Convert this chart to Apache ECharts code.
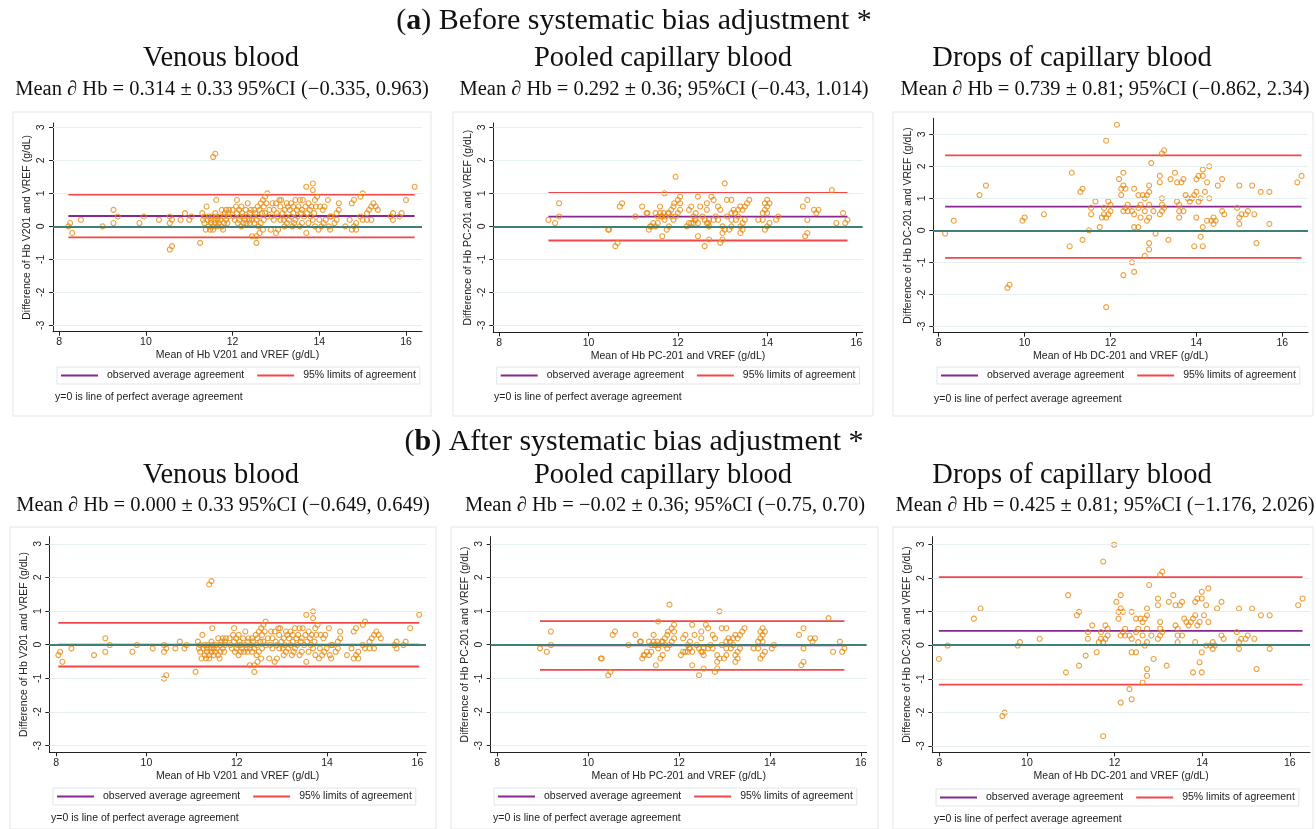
<!DOCTYPE html>
<html lang="en">
<head>
<meta charset="UTF-8">
<title>Hb agreement - Bland-Altman</title>
<script src="https://cdn.jsdelivr.net/npm/echarts@6.0.0/dist/echarts.min.js"></script>
<style>
  html, body { margin: 0; padding: 0; background: #fff; }
  #chart { width: 1316px; height: 829px; }
</style>
</head>
<body>
<div id="chart"></div>
<script>
// ticks shared by every panel
var xTicks = [8, 10, 12, 14, 16];
var yTicks = [-3, -2, -1, 0, 1, 2, 3];

// (a) before bias adjustment: [mean of Hb, difference of Hb]
var venBefore = [
  [8.21,0.0],[8.25,0.1],[8.3,-0.2],[8.5,0.2],[9.0,0.0],[9.25,0.5],[9.25,0.1],[9.35,0.3],[9.85,0.1],[9.95,0.3],
  [10.3,0.2],[10.55,0.3],[10.55,0.1],[10.6,0.2],[10.55,-0.7],[10.6,-0.6],[10.8,0.2],[10.9,0.4],[11.0,0.2],[11.05,0.3],
  [11.25,-0.5],[11.55,2.1],[11.6,2.2],
  [11.3,0.4],[11.32,0.2],[11.35,0.1],[11.35,0.3],[11.38,-0.1],[11.4,0.6],[11.42,0.2],[11.45,0.0],[11.45,0.3],[11.48,-0.1],
  [11.5,0.1],[11.5,0.2],[11.52,0.3],[11.55,0.0],[11.55,-0.1],[11.58,0.2],[11.6,0.4],[11.6,0.1],[11.62,0.8],[11.62,0.3],
  [11.65,0.0],[11.65,0.2],[11.68,0.1],[11.7,0.3],[11.72,0.2],[11.75,0.5],[11.75,0.0],[11.78,-0.1],[11.8,0.3],[11.8,0.1],
  [11.82,0.4],[11.85,0.2],[11.85,0.5],[11.88,0.1],[11.9,0.3],[11.9,0.4],[11.92,0.5],
  [12.0,0.5],[12.02,0.3],[12.05,0.2],[12.08,0.6],[12.1,0.8],[12.1,0.4],[12.12,0.1],[12.15,0.2],[12.15,0.5],[12.18,0.3],
  [12.2,0.6],[12.2,0.0],[12.22,0.4],[12.25,0.1],[12.25,0.3],[12.28,0.2],[12.3,0.5],[12.32,0.1],[12.35,0.7],[12.35,0.3],
  [12.38,0.2],[12.4,0.4],[12.4,0.1],[12.42,0.5],[12.45,-0.3],[12.45,0.2],[12.48,0.3],[12.5,0.5],[12.5,0.1],[12.52,0.4],
  [12.55,-0.3],[12.55,-0.5],[12.55,0.2],[12.58,0.6],[12.6,0.3],[12.6,0.0],[12.62,0.5],[12.62,-0.2],[12.65,0.7],[12.65,0.1],
  [12.68,0.4],[12.7,0.8],[12.7,-0.1],[12.72,0.6],[12.72,0.2],[12.75,0.9],[12.75,0.4],[12.78,0.7],[12.8,1.0],[12.8,0.3],
  [12.85,0.5],[12.88,-0.1],[12.9,0.3],
  [12.92,0.7],[12.95,0.5],[12.95,0.2],[13.0,0.7],[13.0,-0.2],[13.02,0.4],[13.05,-0.1],[13.05,0.3],[13.08,0.8],[13.1,0.2],
  [13.1,0.6],[13.12,0.8],[13.15,0.4],[13.18,0.2],[13.2,0.5],[13.2,0.0],[13.22,0.3],[13.25,0.7],[13.25,0.1],[13.28,0.6],
  [13.3,0.2],[13.32,0.5],[13.35,0.7],[13.35,0.3],[13.38,0.0],[13.4,0.4],[13.4,0.6],[13.42,0.1],[13.45,0.8],[13.45,0.2],
  [13.48,0.5],[13.5,0.3],[13.52,0.6],[13.55,0.8],[13.55,0.0],[13.58,0.4],[13.6,0.5],[13.6,0.1],[13.62,0.8],[13.65,0.3],
  [13.68,0.6],[13.7,1.2],[13.7,-0.2],[13.72,0.4],[13.75,0.7],[13.75,0.1],[13.78,0.5],[13.8,0.3],[13.82,0.6],[13.85,1.3],
  [13.85,1.1],[13.85,0.2],[13.88,0.4],[13.9,0.8],[13.9,0.0],[13.92,0.6],[13.95,0.9],[13.98,-0.1],
  [14.0,0.2],[14.02,0.6],[14.05,0.0],[14.08,0.5],[14.1,0.1],[14.12,0.6],[14.15,0.2],[14.2,0.8],[14.22,0.0],[14.25,0.3],
  [14.25,-0.1],[14.28,0.3],[14.35,0.1],[14.4,0.2],[14.4,0.4],[14.45,0.7],[14.45,0.5],[14.6,0.0],[14.7,0.2],[14.75,0.7],
  [14.8,0.8],[14.75,-0.1],[14.8,0.0],[14.85,0.1],[14.85,-0.1],[14.95,0.9],[15.0,1.0],[14.95,0.3],[15.0,0.2],[15.1,0.2],
  [15.1,0.4],[15.15,0.5],[15.2,0.6],[15.25,0.7],[15.3,0.6],[15.35,0.5],[15.2,0.2],[15.65,0.3],[15.7,0.4],[15.7,0.2],
  [15.85,0.3],[15.9,0.4],[16.0,0.8],[16.2,1.2]
];

var pcBefore = [
  [9.1,0.2],[9.25,0.1],[9.34,0.7],[9.34,0.3],[10.44,-0.1],[10.46,-0.1],[10.6,-0.6],[10.65,-0.5],[10.7,0.6],[10.75,0.7],
  [11.05,0.3],[11.2,0.6],[11.3,0.4],[11.32,0.4],[11.35,-0.1],[11.4,0.0],[11.5,0.4],[11.5,0.0],[11.55,0.1],[11.55,0.3],
  [11.6,0.6],[11.6,0.4],[11.65,-0.3],[11.65,0.3],[11.7,1.0],[11.7,0.2],[11.75,-0.1],[11.8,0.0],[11.8,0.4],[11.85,0.5],
  [11.9,0.6],[11.9,0.2],[11.95,1.5],[11.95,0.3],[12.0,0.4],[12.0,0.8],[12.05,0.9],[12.05,0.5],[12.05,0.7],[12.2,0.0],
  [12.25,0.1],[12.25,0.5],[12.3,0.6],[12.35,0.3],[12.35,0.1],[12.4,0.4],[12.4,0.2],[12.45,0.9],[12.45,-0.3],[12.45,0.1],
  [12.5,0.6],[12.55,0.3],[12.6,-0.6],[12.65,0.7],[12.65,0.5],[12.65,0.1],[12.7,-0.4],[12.7,0.0],[12.7,0.2],[12.75,0.9],
  [12.8,0.8],[12.8,0.2],[12.85,0.3],[12.9,0.6],[12.9,0.2],[12.95,0.5],[12.95,-0.5],[13.0,-0.4],[13.0,-0.2],[13.0,0.0],
  [13.05,1.3],[13.05,-0.1],[13.1,0.8],[13.15,-0.1],[13.2,0.8],[13.2,0.4],[13.2,0.2],[13.2,0.0],[13.25,0.5],[13.3,0.2],
  [13.35,0.5],[13.4,-0.2],[13.4,0.0],[13.45,0.5],[13.45,0.1],[13.45,-0.1],[13.5,0.6],[13.5,0.2],[13.55,0.7],[13.6,0.8],
  [13.8,0.2],[13.9,0.4],[13.9,0.2],[13.95,0.7],[13.95,0.5],[13.95,-0.1],[14.0,0.8],[14.0,0.6],[14.0,0.4],[14.0,0.0],
  [14.05,0.7],[14.05,0.1],[14.2,0.2],[14.25,0.3],[14.8,0.6],[14.85,-0.3],[14.9,0.8],[14.9,-0.2],[14.9,0.2],[15.05,0.5],
  [15.1,0.4],[15.15,0.5],[15.45,1.1],[15.55,0.1],[15.7,0.4],[15.75,0.1],[15.8,0.2],
  [11.62,0.3],[11.68,0.4],[11.72,0.3],[11.78,0.4],[11.85,0.3],[11.92,0.7],[11.38,0.0],[11.45,0.1],[12.3,0.1],[12.38,0.2],
  [12.6,0.2],[12.68,0.1],[13.1,0.3],[13.28,0.4],[13.35,0.3],[13.4,0.6]
];

var dcBefore = [
  [8.15,-0.1],[8.35,0.3],[8.95,1.1],[9.1,1.4],[9.6,-1.8],[9.65,-1.7],[9.95,0.3],[10.0,0.4],[10.45,0.5],[11.05,-0.5],
  [11.1,1.8],[11.3,1.2],[11.35,1.3],[11.35,-0.3],[11.5,0.0],[11.55,0.7],[11.55,0.5],[11.65,0.9],[11.75,0.1],[11.8,0.4],
  [11.85,0.7],[11.85,0.5],[11.9,0.4],[11.9,2.8],[11.9,-2.4],[11.95,0.9],[11.95,0.5],[12.0,0.8],[12.0,0.6],[12.15,3.3],
  [12.2,1.6],[12.25,1.3],[12.25,1.1],[12.3,1.8],[12.3,1.4],[12.3,0.6],[12.3,-1.4],[12.35,1.3],[12.35,0.7],[12.4,0.8],
  [12.4,0.6],[12.5,0.6],[12.5,-1.0],[12.55,1.3],[12.55,0.5],[12.55,0.1],[12.55,-1.3],[12.65,1.1],[12.65,0.7],[12.65,0.1],
  [12.7,0.8],[12.7,0.4],[12.75,1.1],[12.8,1.0],[12.8,0.6],[12.8,-0.8],[12.85,0.3],[12.85,1.1],[12.9,1.2],[12.9,1.4],
  [12.9,0.8],[12.9,0.4],[12.9,-0.4],[12.9,-0.6],[12.95,2.1],[13.0,0.6],[13.05,-0.1],[13.15,1.7],[13.15,1.5],[13.15,0.5],
  [13.2,2.4],[13.25,2.5],[13.2,1.0],[13.2,0.8],[13.2,0.6],[13.25,0.7],[13.35,-0.3],[13.4,1.6],[13.5,1.8],[13.55,1.5],
  [13.55,0.9],[13.6,0.8],[13.6,0.6],[13.6,0.4],[13.65,1.5],[13.7,1.6],[13.7,0.6],[13.75,1.1],[13.8,1.0],[13.85,0.9],
  [13.9,1.0],[13.95,1.1],[13.95,-0.5],[14.0,1.2],[14.0,1.6],[14.0,0.4],[14.05,1.7],[14.05,0.9],[14.1,1.0],[14.1,-0.2],
  [14.15,1.9],[14.15,1.7],[14.15,0.1],[14.15,-0.5],[14.2,1.2],[14.25,1.5],[14.25,0.3],[14.3,2.0],[14.3,1.0],[14.35,0.3],
  [14.4,0.4],[14.4,0.2],[14.45,0.3],[14.5,1.4],[14.6,1.6],[14.6,0.6],[14.65,0.5],[14.95,0.7],[15.0,1.4],[15.0,0.4],
  [15.0,0.2],[15.05,0.5],[15.15,0.5],[15.2,0.6],[15.3,1.4],[15.35,0.5],[15.4,-0.4],[15.5,1.2],[15.7,1.2],[15.7,0.2],
  [16.35,1.5],[16.45,1.7]
];

// (b) after bias adjustment
var venAfter = [
  [8.05,-0.31],[8.09,-0.21],[8.14,-0.51],[8.34,-0.11],[8.84,-0.31],[9.09,0.19],[9.09,-0.21],[9.19,-0.01],[9.69,-0.21],[9.79,-0.01],
  [10.14,-0.11],[10.39,-0.01],[10.39,-0.21],[10.44,-0.11],[10.39,-1.01],[10.44,-0.91],[10.64,-0.11],[10.74,0.09],[10.84,-0.11],[10.89,-0.01],
  [11.09,-0.81],[11.39,1.79],[11.44,1.89],
  [11.14,0.09],[11.16,-0.11],[11.19,-0.21],[11.19,-0.01],[11.22,-0.41],[11.24,0.29],[11.26,-0.11],[11.29,-0.31],[11.29,-0.01],[11.32,-0.41],
  [11.34,-0.21],[11.34,-0.11],[11.36,-0.01],[11.39,-0.31],[11.39,-0.41],[11.42,-0.11],[11.44,0.09],[11.44,-0.21],[11.46,0.49],[11.46,-0.01],
  [11.49,-0.31],[11.49,-0.11],[11.52,-0.21],[11.54,-0.01],[11.56,-0.11],[11.59,0.19],[11.59,-0.31],[11.62,-0.41],[11.64,-0.01],[11.64,-0.21],
  [11.66,0.09],[11.69,-0.11],[11.69,0.19],[11.72,-0.21],[11.74,-0.01],[11.74,0.09],[11.76,0.19],
  [11.84,0.19],[11.86,-0.01],[11.89,-0.11],[11.92,0.29],[11.94,0.49],[11.94,0.09],[11.96,-0.21],[11.99,-0.11],[11.99,0.19],[12.02,-0.01],
  [12.04,0.29],[12.04,-0.31],[12.06,0.09],[12.09,-0.21],[12.09,-0.01],[12.12,-0.11],[12.14,0.19],[12.16,-0.21],[12.19,0.39],[12.19,-0.01],
  [12.22,-0.11],[12.24,0.09],[12.24,-0.21],[12.26,0.19],[12.29,-0.61],[12.29,-0.11],[12.32,-0.01],[12.34,0.19],[12.34,-0.21],[12.36,0.09],
  [12.39,-0.61],[12.39,-0.81],[12.39,-0.11],[12.42,0.29],[12.44,-0.01],[12.44,-0.31],[12.46,0.19],[12.46,-0.51],[12.49,0.39],[12.49,-0.21],
  [12.52,0.09],[12.54,0.49],[12.54,-0.41],[12.56,0.29],[12.56,-0.11],[12.59,0.59],[12.59,0.09],[12.62,0.39],[12.64,0.69],[12.64,-0.01],
  [12.69,0.19],[12.72,-0.41],[12.74,-0.01],
  [12.76,0.39],[12.79,0.19],[12.79,-0.11],[12.84,0.39],[12.84,-0.51],[12.86,0.09],[12.89,-0.41],[12.89,-0.01],[12.92,0.49],[12.94,-0.11],
  [12.94,0.29],[12.96,0.49],[12.99,0.09],[13.02,-0.11],[13.04,0.19],[13.04,-0.31],[13.06,-0.01],[13.09,0.39],[13.09,-0.21],[13.12,0.29],
  [13.14,-0.11],[13.16,0.19],[13.19,0.39],[13.19,-0.01],[13.22,-0.31],[13.24,0.09],[13.24,0.29],[13.26,-0.21],[13.29,0.49],[13.29,-0.11],
  [13.32,0.19],[13.34,-0.01],[13.36,0.29],[13.39,0.49],[13.39,-0.31],[13.42,0.09],[13.44,0.19],[13.44,-0.21],[13.46,0.49],[13.49,-0.01],
  [13.52,0.29],[13.54,0.89],[13.54,-0.51],[13.56,0.09],[13.59,0.39],[13.59,-0.21],[13.62,0.19],[13.64,-0.01],[13.66,0.29],[13.69,0.99],
  [13.69,0.79],[13.69,-0.11],[13.72,0.09],[13.74,0.49],[13.74,-0.31],[13.76,0.29],[13.79,0.59],[13.82,-0.41],
  [13.84,-0.11],[13.86,0.29],[13.89,-0.31],[13.92,0.19],[13.94,-0.21],[13.96,0.29],[13.99,-0.11],[14.04,0.49],[14.06,-0.31],[14.09,-0.01],
  [14.09,-0.41],[14.12,-0.01],[14.19,-0.21],[14.24,-0.11],[14.24,0.09],[14.29,0.39],[14.29,0.19],[14.44,-0.31],[14.54,-0.11],[14.59,0.39],
  [14.64,0.49],[14.59,-0.41],[14.64,-0.31],[14.69,-0.21],[14.69,-0.41],[14.79,0.59],[14.84,0.69],[14.79,-0.01],[14.84,-0.11],[14.94,-0.11],
  [14.94,0.09],[14.99,0.19],[15.04,0.29],[15.09,0.39],[15.14,0.29],[15.19,0.19],[15.04,-0.11],[15.49,-0.01],[15.54,0.09],[15.54,-0.11],
  [15.69,-0.01],[15.74,0.09],[15.84,0.49],[16.04,0.89]
];

var pcAfter = [
  [8.94,-0.11],[9.09,-0.21],[9.18,0.39],[9.18,-0.01],[10.28,-0.41],[10.3,-0.41],[10.44,-0.91],[10.49,-0.81],[10.54,0.29],[10.59,0.39],
  [10.89,-0.01],[11.04,0.29],[11.14,0.09],[11.16,0.09],[11.19,-0.41],[11.24,-0.31],[11.34,0.09],[11.34,-0.31],[11.39,-0.21],[11.39,-0.01],
  [11.44,0.29],[11.44,0.09],[11.49,-0.61],[11.49,-0.01],[11.54,0.69],[11.54,-0.11],[11.59,-0.41],[11.64,-0.31],[11.64,0.09],[11.69,0.19],
  [11.74,0.29],[11.74,-0.11],[11.79,1.19],[11.79,-0.01],[11.84,0.09],[11.84,0.49],[11.89,0.59],[11.89,0.19],[11.89,0.39],[12.04,-0.31],
  [12.09,-0.21],[12.09,0.19],[12.14,0.29],[12.19,-0.01],[12.19,-0.21],[12.24,0.09],[12.24,-0.11],[12.29,0.59],[12.29,-0.61],[12.29,-0.21],
  [12.34,0.29],[12.39,-0.01],[12.44,-0.91],[12.49,0.39],[12.49,0.19],[12.49,-0.21],[12.54,-0.71],[12.54,-0.31],[12.54,-0.11],[12.59,0.59],
  [12.64,0.49],[12.64,-0.11],[12.69,-0.01],[12.74,0.29],[12.74,-0.11],[12.79,0.19],[12.79,-0.81],[12.84,-0.71],[12.84,-0.51],[12.84,-0.31],
  [12.89,0.99],[12.89,-0.41],[12.94,0.49],[12.99,-0.41],[13.04,0.49],[13.04,0.09],[13.04,-0.11],[13.04,-0.31],[13.09,0.19],[13.14,-0.11],
  [13.19,0.19],[13.24,-0.51],[13.24,-0.31],[13.29,0.19],[13.29,-0.21],[13.29,-0.41],[13.34,0.29],[13.34,-0.11],[13.39,0.39],[13.44,0.49],
  [13.64,-0.11],[13.74,0.09],[13.74,-0.11],[13.79,0.39],[13.79,0.19],[13.79,-0.41],[13.84,0.49],[13.84,0.29],[13.84,0.09],[13.84,-0.31],
  [13.89,0.39],[13.89,-0.21],[14.04,-0.11],[14.09,-0.01],[14.64,0.29],[14.69,-0.61],[14.74,0.49],[14.74,-0.51],[14.74,-0.11],[14.89,0.19],
  [14.94,0.09],[14.99,0.19],[15.29,0.79],[15.39,-0.21],[15.54,0.09],[15.59,-0.21],[15.64,-0.11],
  [11.46,-0.01],[11.52,0.09],[11.56,-0.01],[11.62,0.09],[11.69,-0.01],[11.76,0.39],[11.22,-0.31],[11.29,-0.21],[12.14,-0.21],[12.22,-0.11],
  [12.44,-0.11],[12.52,-0.21],[12.94,-0.01],[13.12,0.09],[13.19,-0.01],[13.24,0.29]
];

var dcAfter = [
  [7.99,-0.41],[8.19,-0.01],[8.79,0.79],[8.94,1.09],[9.44,-2.11],[9.49,-2.01],[9.79,-0.01],[9.84,0.09],[10.29,0.19],[10.89,-0.81],
  [10.94,1.49],[11.14,0.89],[11.19,0.99],[11.19,-0.61],[11.34,-0.31],[11.39,0.39],[11.39,0.19],[11.49,0.59],[11.59,-0.21],[11.64,0.09],
  [11.69,0.39],[11.69,0.19],[11.74,0.09],[11.74,2.49],[11.74,-2.71],[11.79,0.59],[11.79,0.19],[11.84,0.49],[11.84,0.29],[11.99,2.99],
  [12.04,1.29],[12.09,0.99],[12.09,0.79],[12.14,1.49],[12.14,1.09],[12.14,0.29],[12.14,-1.71],[12.19,0.99],[12.19,0.39],[12.24,0.49],
  [12.24,0.29],[12.34,0.29],[12.34,-1.31],[12.39,0.99],[12.39,0.19],[12.39,-0.21],[12.39,-1.61],[12.49,0.79],[12.49,0.39],[12.49,-0.21],
  [12.54,0.49],[12.54,0.09],[12.59,0.79],[12.64,0.69],[12.64,0.29],[12.64,-1.11],[12.69,-0.01],[12.69,0.79],[12.74,0.89],[12.74,1.09],
  [12.74,0.49],[12.74,0.09],[12.74,-0.71],[12.74,-0.91],[12.79,1.79],[12.84,0.29],[12.89,-0.41],[12.99,1.39],[12.99,1.19],[12.99,0.19],
  [13.04,2.09],[13.09,2.19],[13.04,0.69],[13.04,0.49],[13.04,0.29],[13.09,0.39],[13.19,-0.61],[13.24,1.29],[13.34,1.49],[13.39,1.19],
  [13.39,0.59],[13.44,0.49],[13.44,0.29],[13.44,0.09],[13.49,1.19],[13.54,1.29],[13.54,0.29],[13.59,0.79],[13.64,0.69],[13.69,0.59],
  [13.74,0.69],[13.79,0.79],[13.79,-0.81],[13.84,0.89],[13.84,1.29],[13.84,0.09],[13.89,1.39],[13.89,0.59],[13.94,0.69],[13.94,-0.51],
  [13.99,1.59],[13.99,1.39],[13.99,-0.21],[13.99,-0.81],[14.04,0.89],[14.09,1.19],[14.09,-0.01],[14.14,1.69],[14.14,0.69],[14.19,-0.01],
  [14.24,0.09],[14.24,-0.11],[14.29,-0.01],[14.34,1.09],[14.44,1.29],[14.44,0.29],[14.49,0.19],[14.79,0.39],[14.84,1.09],[14.84,0.09],
  [14.84,-0.11],[14.89,0.19],[14.99,0.19],[15.04,0.29],[15.14,1.09],[15.19,0.19],[15.24,-0.71],[15.34,0.89],[15.54,0.89],[15.54,-0.11],
  [16.19,1.19],[16.29,1.39]
];

// summary statistics (order: a-venous, a-pooled, a-drops, b-venous, b-pooled, b-drops)
var meanDiff = [0.314, 0.292, 0.739, 0.000, -0.02, 0.425];
var loaLow = [-0.335, -0.43, -0.862, -0.649, -0.75, -1.176];
var loaHigh = [0.963, 1.014, 2.34, 0.649, 0.70, 2.026];
var panelNames = ['Venous blood', 'Pooled capillary blood', 'Drops of capillary blood',
                  'Venous blood', 'Pooled capillary blood', 'Drops of capillary blood'];
var meanTexts = [
  'Mean \u2202 Hb = 0.314 \u00b1 0.33 95%CI (\u22120.335, 0.963)',
  'Mean \u2202 Hb = 0.292 \u00b1 0.36; 95%CI (\u22120.43, 1.014)',
  'Mean \u2202 Hb = 0.739 \u00b1 0.81; 95%CI (\u22120.862, 2.34)',
  'Mean \u2202 Hb = 0.000 \u00b1 0.33 95%CI (\u22120.649, 0.649)',
  'Mean \u2202 Hb = \u22120.02 \u00b1 0.36; 95%CI (\u22120.75, 0.70)',
  'Mean \u2202 Hb = 0.425 \u00b1 0.81; 95%CI (\u22121.176, 2.026)'
];
var devices = ['V201', 'PC-201', 'DC-201', 'V201', 'PC-201', 'DC-201'];
var seriesData = [venBefore, pcBefore, dcBefore, venAfter, pcAfter, dcAfter];
var meanName = 'observed average agreement';
var loaName = '95% limits of agreement';

// panel geometry (pixels) and axis ranges
var layout = [
  { g: [53, 123, 369, 208.7], xr: [7.855, 16.37], yr: [-3.19, 3.13], lg: [57, 367], note: [55, 397], frame: [13, 112, 418, 304], tx: 221, mx: 222, ty: 59, my: 90 },
  { g: [493.3, 123, 369.4, 209.3], xr: [7.866, 16.14], yr: [-3.21, 3.13], lg: [496.7, 367], note: [494, 397], frame: [453, 112, 420, 304], tx: 663, mx: 664, ty: 59, my: 90 },
  { g: [933.3, 118.3, 374.7, 214.4], xr: [7.874, 16.6], yr: [-3.2, 3.5], lg: [937, 367], note: [934, 399], frame: [893, 112, 420, 304], tx: 1072, mx: 1105, ty: 59, my: 90 },
  { g: [49.3, 536.7, 376.7, 215.6], xr: [7.85, 16.19], yr: [-3.2, 3.21], lg: [53, 788], note: [51, 818], frame: [10, 527, 426, 302], tx: 221, mx: 223, ty: 476, my: 506 },
  { g: [490.7, 536.7, 376, 215.6], xr: [7.855, 16.13], yr: [-3.2, 3.21], lg: [494, 788], note: [493, 818], frame: [451, 527, 427, 302], tx: 663, mx: 665, ty: 476, my: 506 },
  { g: [932.3, 536.7, 377.7, 215.6], xr: [7.84, 16.46], yr: [-3.19, 3.23], lg: [936, 789], note: [934, 819], frame: [893, 527, 420, 302], tx: 1072, mx: 1105, ty: 476, my: 506 }
];

var ORANGE = '#e8890f', PURPLE = '#86288f', RED = '#f4474a', TEAL = '#3f7f78', GRID = '#e6eff1';
var SANS = '"Liberation Sans", Arial, sans-serif';
var SERIF = '"Liberation Serif", "Times New Roman", serif';

var grids = [], xAxes = [], yAxes = [], series = [], legends = [], graphics = [];

function flatLine(name, val, pts, color, idx) {
  var xs = pts.map(function (p) { return p[0]; });
  return {
    name: name, type: 'line', xAxisIndex: idx, yAxisIndex: idx,
    data: [[Math.min.apply(null, xs), val], [Math.max.apply(null, xs), val]],
    symbol: 'none', silent: true, z: 3,
    lineStyle: { color: color, width: 1.8 }, itemStyle: { color: color }
  };
}

layout.forEach(function (L, i) {
  grids.push({ left: L.g[0], top: L.g[1], width: L.g[2], height: L.g[3] });
  xAxes.push({
    gridIndex: i, type: 'value', min: L.xr[0], max: L.xr[1],
    name: 'Mean of Hb ' + devices[i] + ' and VREF (g/dL)', nameLocation: 'middle', nameGap: 18,
    nameTextStyle: { fontSize: 10.5, color: '#222', fontFamily: SANS },
    axisLine: { onZero: false, lineStyle: { color: '#222', width: 1 } },
    axisTick: { customValues: xTicks, length: 4, lineStyle: { color: '#222' } },
    axisLabel: { customValues: xTicks, margin: 5, fontSize: 10.5, color: '#222', fontFamily: SANS },
    splitLine: { show: false }
  });
  yAxes.push({
    gridIndex: i, type: 'value', min: L.yr[0], max: L.yr[1],
    name: 'Difference of Hb ' + devices[i] + ' and VREF (g/dL)', nameLocation: 'middle', nameGap: 20,
    nameTextStyle: { fontSize: 10.5, color: '#222', fontFamily: SANS },
    axisLine: { onZero: false, lineStyle: { color: '#222', width: 1 } },
    axisTick: { customValues: yTicks, length: 4, lineStyle: { color: '#222' } },
    axisLabel: { customValues: yTicks, rotate: 90, margin: 6, fontSize: 10.5, color: '#222', fontFamily: SANS },
    splitLine: { show: false }
  });

  // light grid lines and the y=0 line spanning the whole plot
  series.push({
    type: 'line', xAxisIndex: i, yAxisIndex: i, data: [], z: 1, silent: true,
    markLine: {
      silent: true, symbol: ['none', 'none'], label: { show: false }, animation: false,
      lineStyle: { color: GRID, width: 1, type: 'solid' },
      data: yTicks.map(function (t) { return { yAxis: t }; })
        .concat([{ yAxis: 0, lineStyle: { color: TEAL, width: 1.8, type: 'solid' } }])
    }
  });
  var pts = seriesData[i];
  series.push({
    name: 'Hb difference', type: 'scatter', xAxisIndex: i, yAxisIndex: i, data: pts,
    symbol: 'circle', symbolSize: 5, z: 4,
    itemStyle: { color: 'rgba(0,0,0,0)', borderColor: ORANGE, borderWidth: 1.1 }
  });
  series.push(flatLine(meanName, meanDiff[i], pts, PURPLE, i));
  series.push(flatLine(loaName, loaLow[i], pts, RED, i));
  series.push(flatLine(loaName, loaHigh[i], pts, RED, i));

  legends.push({
    left: L.lg[0], top: L.lg[1], orient: 'horizontal', selectedMode: false,
    data: [meanName, loaName], icon: 'rect', itemWidth: 37, itemHeight: 2, itemGap: 13,
    padding: [3, 4, 3, 4], borderColor: '#dfe6e8', borderWidth: 1,
    textStyle: { fontSize: 10.5, color: '#222', fontFamily: SANS, padding: [0, 0, 0, 4] }
  });

  graphics.push({
    type: 'rect', z: -1, silent: true,
    shape: { x: L.frame[0], y: L.frame[1], width: L.frame[2], height: L.frame[3] },
    style: { fill: 'none', stroke: '#e3e6e7', lineWidth: 1 }
  });
  graphics.push({
    type: 'text', x: L.note[0], y: L.note[1], silent: true,
    style: { text: 'y=0 is line of perfect average agreement', fill: '#222', font: '10.5px ' + SANS,
             textAlign: 'left', textVerticalAlign: 'middle', align: 'left', verticalAlign: 'middle' }
  });
  graphics.push({
    type: 'text', x: L.tx, y: L.ty, silent: true,
    style: { text: panelNames[i], fill: '#111', font: '28.5px ' + SERIF,
             textAlign: 'center', textVerticalAlign: 'middle', align: 'center', verticalAlign: 'middle' }
  });
  graphics.push({
    type: 'text', x: L.mx, y: L.my, silent: true,
    style: { text: meanTexts[i], fill: '#111', font: '20.5px ' + SERIF,
             textAlign: 'center', textVerticalAlign: 'middle', align: 'center', verticalAlign: 'middle' }
  });
});

// section headings
[['a', 'Before', 21], ['b', 'After', 442]].forEach(function (h) {
  graphics.push({
    type: 'text', x: 634, y: h[2], silent: true,
    style: {
      text: '({b|' + h[0] + '}) ' + h[1] + ' systematic bias adjustment *',
      fill: '#111', fontSize: 30, fontFamily: SERIF,
      textAlign: 'center', textVerticalAlign: 'middle', align: 'center', verticalAlign: 'middle',
      rich: { b: { fontSize: 30, fontFamily: SERIF, fontWeight: 'bold', fill: '#111' } }
    }
  });
});

var chart = echarts.init(document.getElementById('chart'), null, { renderer: 'canvas' });
chart.setOption({
  animation: false,
  backgroundColor: '#fff',
  textStyle: { fontFamily: SANS },
  grid: grids,
  xAxis: xAxes,
  yAxis: yAxes,
  legend: legends,
  graphic: graphics,
  series: series
});
</script>
</body>
</html>
